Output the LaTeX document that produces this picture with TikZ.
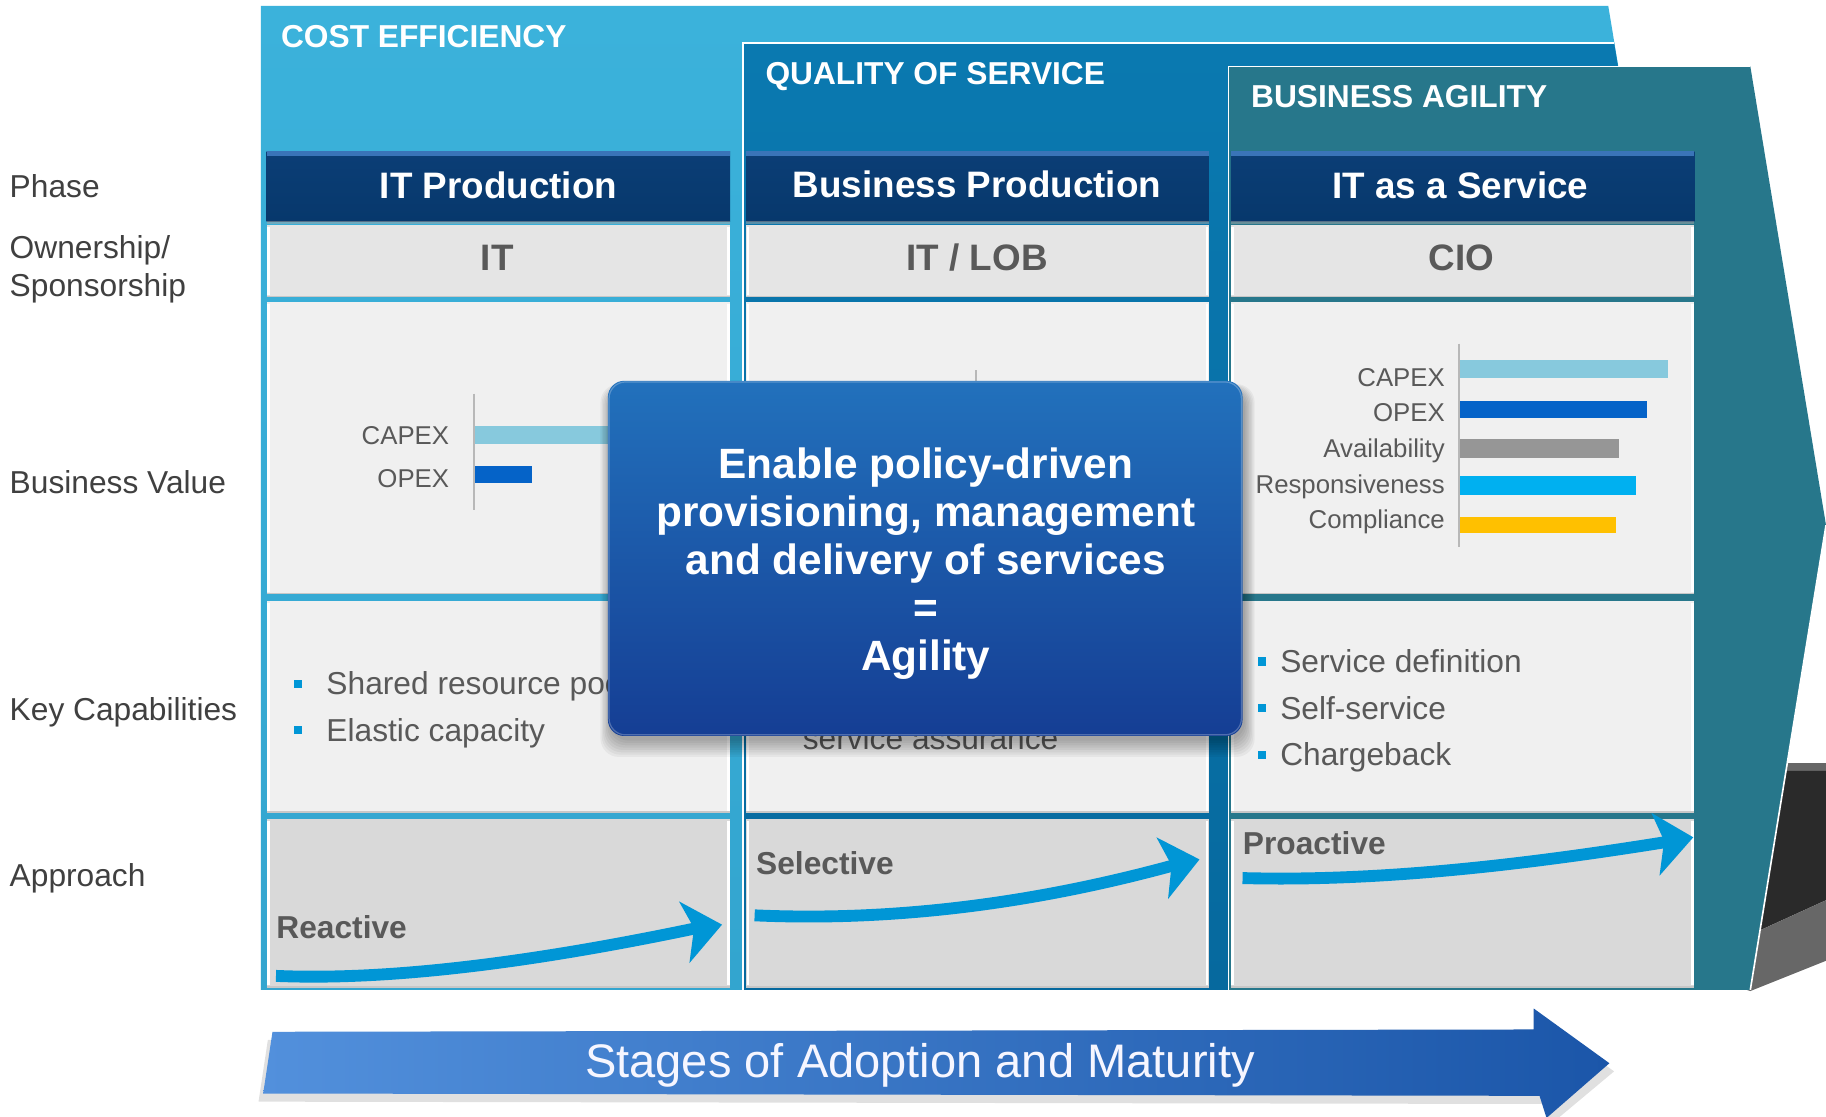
\documentclass[tikz,border=0pt]{standalone}
\usepackage{fontspec}
\setmainfont{Liberation Sans}
\definecolor{ceT}{HTML}{3BB2DB}
\definecolor{ceB}{HTML}{33A5CF}
\definecolor{qosT}{HTML}{0A79B0}
\definecolor{qosB}{HTML}{06699E}
\definecolor{ba}{HTML}{27778B}
\definecolor{navy}{HTML}{0B3E76}
\definecolor{navyB}{HTML}{07386C}
\definecolor{navyhi}{HTML}{3A74B8}
\definecolor{owncol}{HTML}{E5E5E5}
\definecolor{valcol}{HTML}{F0F0F0}
\definecolor{apprcol}{HTML}{D9D9D9}
\definecolor{lbl}{HTML}{404040}
\definecolor{txt}{HTML}{595959}
\definecolor{capex}{HTML}{87C9DD}
\definecolor{opex}{HTML}{0563C8}
\definecolor{avail}{HTML}{969696}
\definecolor{resp}{HTML}{00B0F0}
\definecolor{compl}{HTML}{FFC000}
\definecolor{arr}{HTML}{0096D6}
\definecolor{boxtop}{HTML}{2271BC}
\definecolor{boxbot}{HTML}{153E94}
\definecolor{stL}{HTML}{5290DC}
\definecolor{stR}{HTML}{1B56A9}
\definecolor{darkgr}{HTML}{2A2A2A}
\definecolor{midgr}{HTML}{676767}
\begin{document}
\begin{tikzpicture}[x=0.02cm,y=-0.02cm,
  rowlab/.style={anchor=mid west, text=lbl, inner sep=0, font=\fontsize{15.5pt}{18pt}\selectfont},
  ptitle/.style={anchor=mid west, text=white, inner sep=0, font=\bfseries\fontsize{15.5pt}{18pt}\selectfont},
  hdrtxt/.style={anchor=mid, text=white, inner sep=0, font=\bfseries\fontsize{18pt}{20pt}\selectfont},
  owntxt/.style={anchor=mid, text=txt, inner sep=0, font=\bfseries\fontsize{18pt}{20pt}\selectfont},
  chartlab/.style={anchor=mid east, text=txt, inner sep=0, font=\fontsize{12.6pt}{14pt}\selectfont},
  bultxt/.style={anchor=mid west, text=txt, inner sep=0, font=\fontsize{15.5pt}{18pt}\selectfont},
  bulsq/.style={fill=arr, inner sep=0, minimum size=0.14cm, draw=none},
  apptxt/.style={anchor=mid west, text=txt, inner sep=0, font=\bfseries\fontsize{15.5pt}{18pt}\selectfont},
  axisline/.style={draw=black!28, line width=0.7pt},
  flowline/.style={draw=arr, line width=5.8pt},
  flowhead/.style={fill=arr, draw=none}
]
\useasboundingbox (0,0) rectangle (1568,959);
\fill[white] (0,0) rectangle (1568,959);

% ---- background chevrons ----
\shade[top color=ceT, bottom color=ceB] (224,5) -- (1381,5) -- (1451,428) -- (1381,850) -- (224,850) -- cycle;
\shade[top color=qosT, bottom color=qosB] (638,37) -- (1386,37) -- (1455,443) -- (1386,850) -- (638,850) -- cycle;
\draw[white, line width=0.8pt] (638,850) -- (638,37) -- (1386,37);
% dark shape at lower right
\fill[midgr] (1528,655) -- (1568,655) -- (1568,662) -- (1528,662) -- cycle;
\fill[darkgr] (1528,662) -- (1568,662) -- (1568,773) -- (1500,804) -- cycle;
\fill[midgr] (1500,804) -- (1568,773) -- (1568,825) -- (1503,851) -- (1500,850) -- cycle;
\fill[ba] (1055,57) -- (1503,57) -- (1568,451) -- (1503,850) -- (1055,850) -- cycle;
\draw[white, line width=0.8pt] (1055,850) -- (1055,57) -- (1503,57);
\draw[white, line width=0.8pt] (1568,451) -- (1503,850);

% ---- panel titles ----
\node[ptitle] (tce) at (241,36) {COST EFFICIENCY};
\node[ptitle] (tqos) at (657,68) {QUALITY OF SERVICE};
\node[ptitle] (tba) at (1074,88) {BUSINESS AGILITY};

% ---- grid cells ----
\foreach \xa/\xb in {229/627, 641/1038, 1057/1455} {
  \shade[top color=navy, bottom color=navyB] (\xa,130) rectangle (\xb,190);
  \fill[navyhi] (\xa,130) rectangle (\xb,134);
  \fill[black!35, opacity=0.5] (\xa,190) rectangle (\xb,192);
  \fill[owncol] (\xa,193) rectangle (\xb,255);
  \fill[valcol] (\xa,259) rectangle (\xb,510);
  \fill[valcol] (\xa,516) rectangle (\xb,698);
  \fill[apprcol] (\xa,703) rectangle (\xb,848);
  \foreach \ya/\yb in {193/255, 259/510, 516/698, 703/848} {
    \draw[white, line width=1.2pt] (\xa+1.5,\ya+2) -- (\xa+1.5,\yb-2);
    \draw[white, line width=1.2pt] (\xb-1.5,\ya+2) -- (\xb-1.5,\yb-2);
    \draw[black!22, line width=0.8pt] (\xa,\yb-0.5) -- (\xb,\yb-0.5);
  }
}

% ---- row labels ----
\node[rowlab] (lphase) at (8,165) {Phase};
\node[rowlab] (lown1) at (8,217) {Ownership/};
\node[rowlab] (lown2) at (8,250) {Sponsorship};
\node[rowlab] (lval) at (8,419) {Business Value};
\node[rowlab] (lcap) at (8,614) {Key Capabilities};
\node[rowlab] (lapp) at (8,757) {Approach};

% ---- headers ----
\node[hdrtxt] (h1) at (428,166) {IT Production};
\node[hdrtxt] (h2) at (839,165) {Business Production};
\node[hdrtxt] (h3) at (1254,166) {IT as a Service};
\node[owntxt] (o1) at (427,228) {IT};
\node[owntxt] (o2) at (839,228) {IT / LOB};
\node[owntxt] (o3) at (1255,228) {CIO};

% ---- charts ----
\draw[axisline] (407,338) -- (407,438);
\fill[capex] (408,366) rectangle (560,381);
\fill[opex] (408,400) rectangle (457,415);
\node[chartlab] (c1a) at (386,377) {CAPEX};
\node[chartlab] (c1b) at (386,414) {OPEX};

\draw[axisline] (838,318) -- (838,470);

\draw[axisline] (1253,295) -- (1253,470);
\fill[capex] (1254,309) rectangle (1432,325);
\fill[opex] (1254,344) rectangle (1414,359);
\fill[avail] (1254,377) rectangle (1390,393);
\fill[resp] (1254,409) rectangle (1405,425);
\fill[compl] (1254,444) rectangle (1388,458);
\node[chartlab] (c3a) at (1241,327) {CAPEX};
\node[chartlab] (c3b) at (1241,357) {OPEX};
\node[chartlab] (c3c) at (1241,388) {Availability};
\node[chartlab] (c3d) at (1241,419) {Responsiveness};
\node[chartlab] (c3e) at (1241,449) {Compliance};

% ---- key capabilities ----
\node[bulsq] (b11) at (256,587) {};
\node[bulsq] (b12) at (256,627) {};
\node[bultxt] (k11) at (280,592) {Shared resource pooling};
\node[bultxt] (k12) at (280,632) {Elastic capacity};
\node[bultxt, anchor=base west] (k21) at (689,644) {service assurance};
\node[bulsq] (b31) at (1084,568) {};
\node[bulsq] (b32) at (1084,608) {};
\node[bulsq] (b33) at (1084,648) {};
\node[bultxt] (k31) at (1099,573) {Service definition};
\node[bultxt] (k32) at (1099,613) {Self-service};
\node[bultxt] (k33) at (1099,653) {Chargeback};

% ---- approach ----
\node[apptxt] (a1) at (237,801) {Reactive};
\node[apptxt] (a2) at (649,746) {Selective};
\node[apptxt] (a3) at (1067,729) {Proactive};

\coordinate (f1s) at (237,838); \coordinate (f1e) at (598,797);
\coordinate (f2s) at (648,786); \coordinate (f2e) at (1008,743);
\coordinate (f3s) at (1067,754); \coordinate (f3e) at (1431,723);
\draw[flowline] (f1s) .. controls (330,842) and (450,828) .. (f1e);
\fill[flowhead] (620,794) -- (583,774) -- (596,797) -- (592,827) -- cycle;
\draw[flowline] (f2s) .. controls (760,791) and (880,778) .. (f2e);
\fill[flowhead] (1030,738) -- (993,719) -- (1006,743) -- (1003,772) -- cycle;
\draw[flowline] (f3s) .. controls (1180,757) and (1300,744) .. (f3e);
\fill[flowhead] (1454,719) -- (1418,698) -- (1429,722) -- (1425,752) -- cycle;

% ---- central box ----
\foreach \s in {0,2,...,14} {
  \fill[black, opacity=0.045, rounded corners=9pt] (524-\s*0.6,334-\s*0.3) rectangle (1069+\s*0.6,636+\s);
}
\shade[top color=boxtop, bottom color=boxbot, rounded corners=8pt] (522,327) rectangle (1067,632);
\draw[white, opacity=0.25, line width=0.6pt, rounded corners=8pt] (523,328) rectangle (1066,631);
\node[text=white, align=center, inner sep=0,
      font=\bfseries\fontsize{20.7pt}{23.5pt}\selectfont] (mainbox) at (795,484)
  {Enable policy-driven\\provisioning, management\\and delivery of services\\=\\Agility};

% ---- stages arrow ----
\fill[black, opacity=0.12] (230,893) -- (1321,891) -- (1321,873) -- (1386,920) -- (1331,966) -- (1325,948) -- (222,946) -- cycle;
\shade[left color=stL, right color=stR] (234,886) -- (1317,884) -- (1317,866) -- (1382,913) -- (1328,960) -- (1322,941) -- (226,939) -- cycle;
\node[text=white!88!blue!30, inner sep=0, anchor=mid, font=\fontsize{23pt}{26pt}\selectfont] (stages) at (790,921) {Stages of Adoption and Maturity};
\end{tikzpicture}
\end{document}
